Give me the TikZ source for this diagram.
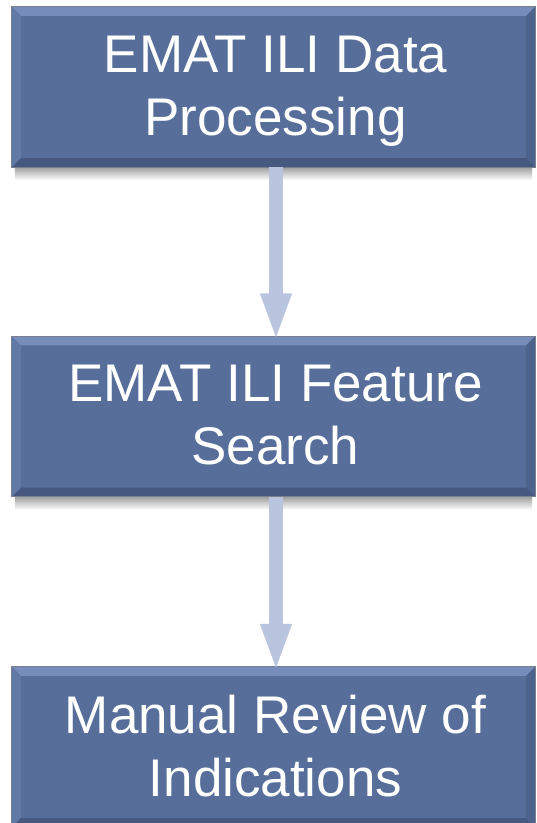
\documentclass[tikz,border=0pt]{standalone}
\usepackage{fontspec}
\setmainfont{Liberation Sans}
\usetikzlibrary{arrows.meta,calc}
\definecolor{boxfill}{RGB}{87,110,155}
\definecolor{bevtop}{RGB}{118,141,188}
\definecolor{bevleft}{RGB}{98,121,166}
\definecolor{bevright}{RGB}{78,99,140}
\definecolor{bevbot}{RGB}{70,88,127}
\definecolor{edgegray}{RGB}{120,128,140}
\definecolor{arrowc}{RGB}{185,196,222}
\newcommand\bevelbox[1]{%
  \shade[top color=gray!75, bottom color=white] ([xshift=3pt]#1.south west) rectangle ([shift={(-3,13)}]#1.south east);
  \fill[bevtop] (#1.north west) -- (#1.north east) -- ([shift={(-9,9)}]#1.north east) -- ([shift={(9,9)}]#1.north west) -- cycle;
  \fill[bevleft] (#1.north west) -- ([shift={(9,9)}]#1.north west) -- ([shift={(9,-9)}]#1.south west) -- (#1.south west) -- cycle;
  \fill[bevright] (#1.north east) -- ([shift={(-9,9)}]#1.north east) -- ([shift={(-9,-9)}]#1.south east) -- (#1.south east) -- cycle;
  \fill[bevbot] (#1.south west) -- ([shift={(9,-9)}]#1.south west) -- ([shift={(-9,-9)}]#1.south east) -- (#1.south east) -- cycle;
  \draw[edgegray, line width=0.8pt] (#1.north west) rectangle (#1.south east);
}
\tikzset{
  stepbox/.style={minimum width=523pt, minimum height=160pt, fill=boxfill, inner sep=0pt,
    text=white, font=\fontsize{53}{63}\selectfont, align=center, text depth=3pt},
  flowarrow/.style={arrowc, line width=14pt, -{Triangle[width=28pt,length=48pt]}}
}
\begin{document}
\begin{tikzpicture}[x=1pt,y=-1pt]
\useasboundingbox (0,0) rectangle (537,823);
\clip (0,0) rectangle (537,823);
\node[stepbox] (b1) at (273.5,87) {};
\bevelbox{b1}
\node[stepbox, fill=none] (t1) at ([xshift=2pt]b1.center) {EMAT ILI Data\\Processing};
\node[stepbox] (b2) at (273.5,416.5) {};
\bevelbox{b2}
\node[stepbox, fill=none] (t2) at ([xshift=2pt]b2.center) {EMAT ILI Feature\\Search};
\node[stepbox] (b3) at (273.5,747) {};
\bevelbox{b3}
\node[stepbox, fill=none] (t3) at ([xshift=2pt]b3.center) {Manual Review of\\Indications};
\draw[flowarrow] ([xshift=2.5pt]b1.south) -- ([shift={(2.5pt,-5pt)}]b2.north);
\draw[flowarrow] ([xshift=2.5pt]b2.south) -- ([shift={(2.5pt,-5pt)}]b3.north);
\end{tikzpicture}
\end{document}
